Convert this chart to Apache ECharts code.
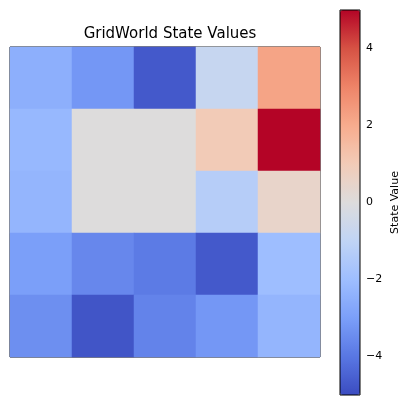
<!DOCTYPE html>
<html><head><meta charset="utf-8">
<script src="https://cdn.jsdelivr.net/npm/echarts@6/dist/echarts.min.js"></script>
<style>html,body{margin:0;padding:0;background:#fff}#c{width:418px;height:405px}</style>
</head><body><div id="c"></div>
<script>
const cols = [0, 1, 2, 3, 4];
const rows = [0, 1, 2, 3, 4];
const row0 = [-2.5, -3.2, -4.7, -0.8, 2.2];
const row1 = [-2.2, 0.0, 0.0, 1.0, 5.0];
const row2 = [-2.3, 0.0, 0.0, -1.3, 0.5];
const row3 = [-3.0, -3.6, -3.9, -4.7, -2.0];
const row4 = [-3.4, -4.8, -3.7, -3.2, -2.3];
const cbTicks = [-4, -2, 0, 2, 4];

const values = [row0, row1, row2, row3, row4];
const data = [];
values.forEach((r, y) => r.forEach((v, x) => data.push([x, y, v])));

const coolwarm = ["#3b4cc0", "#5977e3", "#7b9ff9", "#9ebeff", "#c0d4f5", "#dddcdc",
  "#f2cbb7", "#f7ac8e", "#ee8468", "#d65244", "#b40426"];

const chart = echarts.init(document.getElementById("c"));
chart.setOption({
  animation: false,
  title: { text: "GridWorld State Values", left: 165, top: 22, textAlign: "center",
    textStyle: { fontFamily: "DejaVu Sans", fontSize: 15, fontWeight: "normal", color: "#000" } },
  grid: [
    { left: 10, top: 47, width: 310, height: 310, show: true, borderColor: "#000", borderWidth: 1 },
    { left: 340, top: 10, width: 20, height: 385 }
  ],
  xAxis: [
    { type: "category", data: cols, gridIndex: 0, axisLabel: { show: false }, axisTick: { show: false }, axisLine: { show: false } },
    { type: "value", gridIndex: 1, show: false, min: 0, max: 1 }
  ],
  yAxis: [
    { type: "category", data: rows, inverse: true, gridIndex: 0, axisLabel: { show: false }, axisTick: { show: false }, axisLine: { show: false } },
    { type: "value", gridIndex: 1, position: "right", min: -5, max: 5, interval: 2,
      axisLine: { show: false }, splitLine: { show: false },
      axisTick: { show: true, length: 4, lineStyle: { color: "#000" }, customValues: cbTicks },
      axisLabel: { color: "#000", fontFamily: "DejaVu Sans", fontSize: 11, margin: 6, customValues: cbTicks,
        formatter: v => v < 0 ? "\u2212" + (-v) : String(v) },
      name: "State Value", nameLocation: "middle", nameGap: 30, nameRotate: 90,
      nameTextStyle: { color: "#000", fontFamily: "DejaVu Sans", fontSize: 11 } }
  ],
  visualMap: {
    type: "continuous", min: -5, max: 5, calculable: false, seriesIndex: 0,
    left: 340, top: 10, itemWidth: 20, itemHeight: 385, padding: 0,
    text: ["", ""], showLabel: false, inRange: { color: coolwarm }
  },
  graphic: [{ type: "rect", z: 100, shape: { x: 340, y: 10, width: 20, height: 385 },
    style: { fill: "none", stroke: "#000", lineWidth: 1 } }],
  series: [
    { type: "heatmap", data: data, xAxisIndex: 0, yAxisIndex: 0, itemStyle: { borderWidth: 0 } }
  ]
});
</script></body></html>
